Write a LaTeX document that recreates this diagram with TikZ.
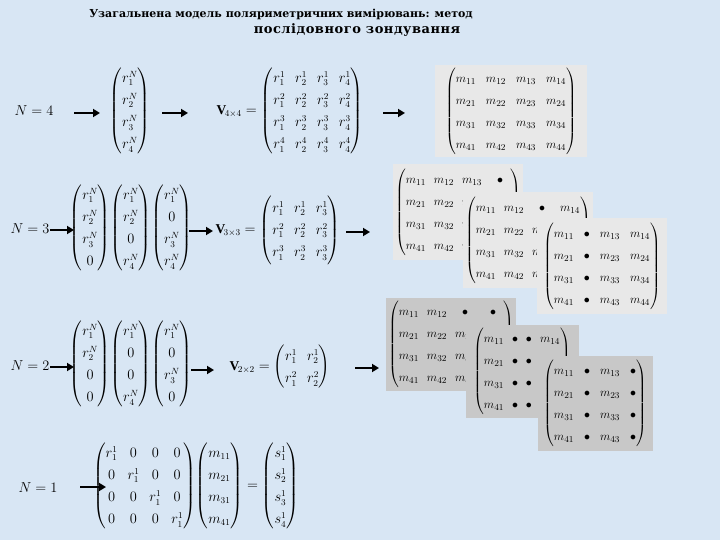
\documentclass[tikz,border=0pt]{standalone}
\usepackage{amsmath}
\usepackage{fontspec}
\setmainfont{Liberation Serif}
\newfontfamily\titlefont{DejaVu Serif}
\newfontfamily\titlefontsp[LetterSpace=4]{DejaVu Serif}
\usetikzlibrary{arrows.meta}
\renewcommand{\arraystretch}{1.3}
\newcommand{\mq}[1]{m_{#1}}
\begin{document}
\begin{tikzpicture}[x=1pt,y=-1pt,
  bg/.style={fill={rgb,255:red,216;green,230;blue,244}},
  arr/.style={line width=2.6pt,-{Triangle[length=7pt,width=8pt]}},
  mat/.style={inner sep=0pt,font=\fontsize{13.5}{17}\selectfont},
  lbl/.style={inner sep=0pt,font=\fontsize{14}{16}\selectfont},
  ttl/.style={inner sep=0pt,font=\titlefont\bfseries\fontsize{11}{13}\selectfont},
  ttlsp/.style={inner sep=0pt,font=\titlefontsp\bfseries\fontsize{13}{15}\selectfont},
  lbox/.style={fill={rgb,255:red,232;green,232;blue,232},inner sep=2pt,minimum width=127pt,minimum height=95pt,font=\fontsize{13}{17}\selectfont},
  dbox/.style={fill={rgb,255:red,200;green,200;blue,200},inner sep=2pt,minimum width=113pt,minimum height=93pt,font=\fontsize{13}{17}\selectfont}]
\path[bg] (0,0) rectangle (720,540);
\node[ttl] (title1) at (281,14) {Узагальнена модель поляриметричних вимірювань: метод};
\node[ttlsp] (title2) at (357,30) {послідовного зондування};
% N=4
\node[lbl] (n4) at (34,111) {$N=4$};
\coordinate (a41s) at (74,113); \coordinate (a41e) at (100,113);
\draw[arr] (a41s) -- (a41e);
\node[mat] (v4) at (130,111) {$\begin{pmatrix} r_1^N\\ r_2^N\\ r_3^N\\ r_4^N\end{pmatrix}$};
\coordinate (a42s) at (162,113); \coordinate (a42e) at (188,113);
\draw[arr] (a42s) -- (a42e);
\node[mat] (V4) at (290,111) {$\mathbf{V}_{\!4\times4}=\begin{pmatrix} r_1^1&r_2^1&r_3^1&r_4^1\\ r_1^2&r_2^2&r_3^2&r_4^2\\ r_1^3&r_2^3&r_3^3&r_4^3\\ r_1^4&r_2^4&r_3^4&r_4^4\end{pmatrix}$};
\coordinate (a43s) at (383,113); \coordinate (a43e) at (405,113);
\draw[arr] (a43s) -- (a43e);
\node[lbox,minimum width=152pt,minimum height=92pt] (M4) at (511,111) {\setlength\arraycolsep{5pt}$\begin{pmatrix}\mq{11}&\mq{12}&\mq{13}&\mq{14}\\ \mq{21}&\mq{22}&\mq{23}&\mq{24}\\ \mq{31}&\mq{32}&\mq{33}&\mq{34}\\ \mq{41}&\mq{42}&\mq{43}&\mq{44}\end{pmatrix}$};
% N=3
\node[lbl] (n3) at (30,229) {$N=3$};
\coordinate (a31s) at (50,230); \coordinate (a31e) at (74,230);
\draw[arr] (a31s) -- (a31e);
\node[mat] (v3) at (131,228) {$\begin{pmatrix} r_1^N\\ r_2^N\\ r_3^N\\ 0\end{pmatrix}\!\begin{pmatrix} r_1^N\\ r_2^N\\ 0\\ r_4^N\end{pmatrix}\!\begin{pmatrix} r_1^N\\ 0\\ r_3^N\\ r_4^N\end{pmatrix}$};
\coordinate (a32s) at (189,231); \coordinate (a32e) at (213,231);
\draw[arr] (a32s) -- (a32e);
\node[mat] (V3) at (278,230) {$\mathbf{V}_{\!3\times3}=\begin{pmatrix} r_1^1&r_2^1&r_3^1\\ r_1^2&r_2^2&r_3^2\\ r_1^3&r_2^3&r_3^3\end{pmatrix}$};
\coordinate (a33s) at (346,232); \coordinate (a33e) at (370,232);
\draw[arr] (a33s) -- (a33e);
\node[lbox] (B31) at (458,212) {\setlength\arraycolsep{4pt}$\begin{pmatrix}\mq{11}&\mq{12}&\mq{13}&\bullet\\ \mq{21}&\mq{22}&\mq{23}&\mq{24}\\ \mq{31}&\mq{32}&\mq{33}&\mq{34}\\ \mq{41}&\mq{42}&\mq{43}&\mq{44}\end{pmatrix}$};
\node[lbox] (B32) at (528,240) {\setlength\arraycolsep{4pt}$\begin{pmatrix}\mq{11}&\mq{12}&\bullet&\mq{14}\\ \mq{21}&\mq{22}&\mq{23}&\mq{24}\\ \mq{31}&\mq{32}&\mq{33}&\mq{34}\\ \mq{41}&\mq{42}&\mq{43}&\mq{44}\end{pmatrix}$};
\node[lbox,minimum width=130pt] (B33) at (602,266) {\setlength\arraycolsep{5pt}$\begin{pmatrix}\mq{11}&\bullet&\mq{13}&\mq{14}\\ \mq{21}&\bullet&\mq{23}&\mq{24}\\ \mq{31}&\bullet&\mq{33}&\mq{34}\\ \mq{41}&\bullet&\mq{43}&\mq{44}\end{pmatrix}$};
% N=2
\node[lbl] (n2) at (30,366) {$N=2$};
\coordinate (a21s) at (50,367); \coordinate (a21e) at (74,367);
\draw[arr] (a21s) -- (a21e);
\node[mat] (v2) at (131,364) {$\begin{pmatrix} r_1^N\\ r_2^N\\ 0\\ 0\end{pmatrix}\!\begin{pmatrix} r_1^N\\ 0\\ 0\\ r_4^N\end{pmatrix}\!\begin{pmatrix} r_1^N\\ 0\\ r_3^N\\ 0\end{pmatrix}$};
\coordinate (a22s) at (191,370); \coordinate (a22e) at (214,370);
\draw[arr] (a22s) -- (a22e);
\node[mat] (V2) at (280,367) {$\mathbf{V}_{\!2\times2}=\begin{pmatrix} r_1^1&r_2^1\\ r_1^2&r_2^2\end{pmatrix}$};
\coordinate (a23s) at (355,368); \coordinate (a23e) at (379,368);
\draw[arr] (a23s) -- (a23e);
\node[dbox] (B21) at (451,344) {\setlength\arraycolsep{4pt}$\begin{pmatrix}\mq{11}&\mq{12}&\bullet&\bullet\\ \mq{21}&\mq{22}&\mq{23}&\mq{24}\\ \mq{31}&\mq{32}&\mq{33}&\mq{34}\\ \mq{41}&\mq{42}&\mq{43}&\mq{44}\end{pmatrix}$};
\node[dbox] (B22) at (522,371) {\setlength\arraycolsep{4pt}$\begin{pmatrix}\mq{11}&\bullet&\bullet&\mq{14}\\ \mq{21}&\bullet&\bullet&\mq{24}\\ \mq{31}&\bullet&\bullet&\mq{34}\\ \mq{41}&\bullet&\bullet&\mq{44}\end{pmatrix}$};
\node[dbox,minimum width=115pt,minimum height=95pt] (B23) at (595,403) {\setlength\arraycolsep{5pt}$\begin{pmatrix}\mq{11}&\bullet&\mq{13}&\bullet\\ \mq{21}&\bullet&\mq{23}&\bullet\\ \mq{31}&\bullet&\mq{33}&\bullet\\ \mq{41}&\bullet&\mq{43}&\bullet\end{pmatrix}$};
% N=1
\node[lbl] (n1) at (38,488) {$N=1$};
\coordinate (a11s) at (80,487); \coordinate (a11e) at (106,487);
\draw[arr] (a11s) -- (a11e);
\node[mat] (eq1) at (196,486) {$\begin{pmatrix} r_1^1&0&0&0\\ 0&r_1^1&0&0\\ 0&0&r_1^1&0\\ 0&0&0&r_1^1\end{pmatrix}\!\begin{pmatrix}\mq{11}\\ \mq{21}\\ \mq{31}\\ \mq{41}\end{pmatrix}=\begin{pmatrix} s_1^1\\ s_2^1\\ s_3^1\\ s_4^1\end{pmatrix}$};
\end{tikzpicture}
\end{document}
